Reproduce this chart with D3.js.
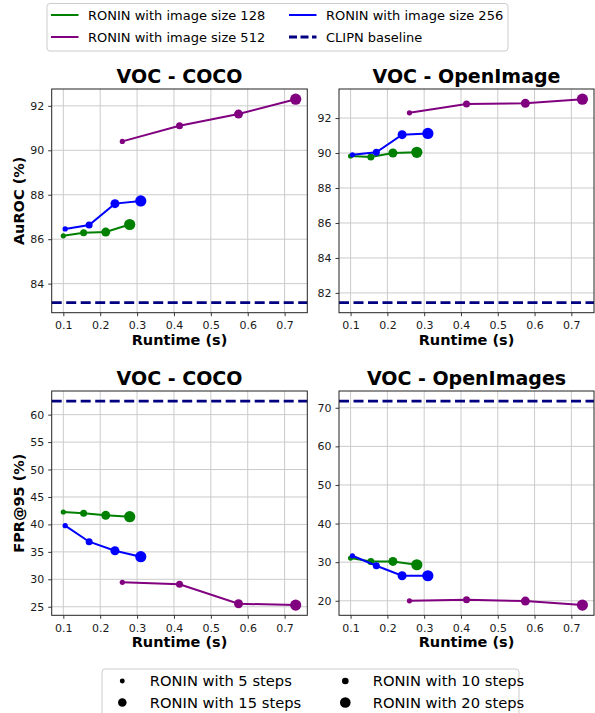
<!DOCTYPE html>
<html>
<head>
<meta charset="utf-8">
<script src="https://cdn.jsdelivr.net/npm/d3@7"></script>
<style>
  body { margin: 0; background: #fff; }
  svg { display: block; font-family: "DejaVu Sans", sans-serif; }
</style>
</head>
<body>
<svg id="chart" width="595" height="713"></svg>
<script>
// runtimes (s) for each image size, 5/10/15/20 steps
const runtime128 = [0.10, 0.155, 0.215, 0.28];
const runtime256 = [0.105, 0.17, 0.24, 0.31];
const runtime512 = [0.26, 0.415, 0.575, 0.73];
const steps = [5, 10, 15, 20];

const aurocCoco128 = [86.15, 86.29, 86.32, 86.66];
const aurocCoco256 = [86.46, 86.64, 87.60, 87.72];
const aurocCoco512 = [90.40, 91.10, 91.63, 92.30];
const aurocCocoClipn = 83.15;

const aurocOi128 = [89.83, 89.77, 90.00, 90.04];
const aurocOi256 = [89.90, 90.04, 91.05, 91.12];
const aurocOi512 = [92.30, 92.80, 92.84, 93.08];
const aurocOiClipn = 81.45;

const fprCoco128 = [42.26, 42.03, 41.66, 41.41];
const fprCoco256 = [39.77, 36.85, 35.20, 34.12];
const fprCoco512 = [29.45, 29.08, 25.55, 25.30];
const fprCocoClipn = 62.45;

const fprOi128 = [31.06, 30.20, 30.20, 29.33];
const fprOi256 = [31.66, 29.07, 26.48, 26.48];
const fprOi512 = [20.00, 20.26, 19.92, 18.88];
const fprOiClipn = 71.70;

const xTicks = [0.1, 0.2, 0.3, 0.4, 0.5, 0.6, 0.7];
const sizeLabels = ["RONIN with image size 128", "RONIN with image size 256", "RONIN with image size 512"];
const baselineLabel = "CLIPN baseline";
const colors = ["#008000", "#0000ff", "#800080"];
const navy = "#000080";
const radius = {5: 2.6, 10: 3.5, 15: 4.5, 20: 5.6};

const panels = [
  { title: "VOC - COCO", ylabel: "AuROC (%)", series: [aurocCoco128, aurocCoco256, aurocCoco512], base: aurocCocoClipn,
    yTicks: [84, 86, 88, 90, 92], x0: 51.7, x1: 307.3, y0: 89, y1: 312.7 },
  { title: "VOC - OpenImage", ylabel: null, series: [aurocOi128, aurocOi256, aurocOi512], base: aurocOiClipn,
    yTicks: [82, 84, 86, 88, 90, 92], x0: 339, x1: 594, y0: 89, y1: 312.7 },
  { title: "VOC - COCO", ylabel: "FPR@95 (%)", series: [fprCoco128, fprCoco256, fprCoco512], base: fprCocoClipn,
    yTicks: [25, 30, 35, 40, 45, 50, 55, 60], x0: 51.7, x1: 307.3, y0: 391, y1: 615.3 },
  { title: "VOC - OpenImages", ylabel: null, series: [fprOi128, fprOi256, fprOi512], base: fprOiClipn,
    yTicks: [20, 30, 40, 50, 60, 70], x0: 339, x1: 594, y0: 391, y1: 615.3 }
];
const runtimes = [runtime128, runtime256, runtime512];

const svg = d3.select("#chart");

function padded(lo, hi) {
  const m = (hi - lo) * 0.05;
  return [lo - m, hi + m];
}

panels.forEach((p, k) => {
  const allX = runtimes.flat();
  const allY = p.series.flat().concat([p.base]);
  const x = d3.scaleLinear().domain(padded(d3.min(allX), d3.max(allX))).range([p.x0, p.x1]);
  const y = d3.scaleLinear().domain(padded(d3.min(allY), d3.max(allY))).range([p.y1, p.y0]);

  const g = svg.append("g");

  // grid
  g.selectAll(".gx").data(xTicks).enter().append("line")
    .attr("x1", d => x(d)).attr("x2", d => x(d))
    .attr("y1", p.y0).attr("y2", p.y1)
    .attr("stroke", "#cbcbcb").attr("stroke-width", 1);
  g.selectAll(".gy").data(p.yTicks).enter().append("line")
    .attr("x1", p.x0).attr("x2", p.x1)
    .attr("y1", d => y(d)).attr("y2", d => y(d))
    .attr("stroke", "#cbcbcb").attr("stroke-width", 1);

  const clipId = "clip" + k;
  g.append("clipPath").attr("id", clipId).append("rect")
    .attr("x", p.x0).attr("y", p.y0).attr("width", p.x1 - p.x0).attr("height", p.y1 - p.y0);

  // baseline
  g.append("line")
    .attr("x1", p.x0).attr("x2", p.x1)
    .attr("y1", y(p.base)).attr("y2", y(p.base))
    .attr("stroke", navy).attr("stroke-width", 2.8)
    .attr("stroke-dasharray", "10,4.5");

  const line = d3.line().x(d => x(d[0])).y(d => y(d[1]));
  const plot = g.append("g").attr("clip-path", "url(#" + clipId + ")");

  p.series.forEach((vals, i) => {
    const pts = vals.map((v, j) => [runtimes[i][j], v, steps[j]]);
    plot.append("path").datum(pts)
      .attr("d", line).attr("fill", "none")
      .attr("stroke", colors[i]).attr("stroke-width", 2);
    plot.selectAll(null).data(pts).enter().append("circle")
      .attr("cx", d => x(d[0])).attr("cy", d => y(d[1]))
      .attr("r", d => radius[d[2]])
      .attr("fill", colors[i]);
  });

  // axes
  const xAxis = d3.axisBottom(x).tickValues(xTicks).tickSize(3.5).tickPadding(5).tickFormat(d3.format(".1f"));
  const yAxis = d3.axisLeft(y).tickValues(p.yTicks).tickSize(3.5).tickPadding(4).tickFormat(d3.format("d"));
  const gx = g.append("g").attr("transform", `translate(0,${p.y1})`).call(xAxis);
  const gy = g.append("g").attr("transform", `translate(${p.x0},0)`).call(yAxis);
  [gx, gy].forEach(a => {
    a.select(".domain").remove();
    a.selectAll("line").attr("stroke", "#222").attr("stroke-width", 0.9);
    a.selectAll("text").attr("font-size", 11).attr("fill", "#1a1a1a")
      .attr("font-family", "DejaVu Sans, sans-serif");
  });

  // frame
  g.append("rect")
    .attr("x", p.x0).attr("y", p.y0).attr("width", p.x1 - p.x0).attr("height", p.y1 - p.y0)
    .attr("fill", "none").attr("stroke", "#222").attr("stroke-width", 1);

  g.append("text")
    .attr("x", (p.x0 + p.x1) / 2).attr("y", p.y0 - 6)
    .attr("text-anchor", "middle").attr("font-size", 19).attr("font-weight", "bold")
    .text(p.title);

  g.append("text")
    .attr("x", (p.x0 + p.x1) / 2).attr("y", p.y1 + 32)
    .attr("text-anchor", "middle").attr("font-size", 14.5).attr("font-weight", "bold")
    .text("Runtime (s)");

  if (p.ylabel) {
    g.append("text")
      .attr("transform", `translate(24,${(p.y0 + p.y1) / 2}) rotate(-90)`)
      .attr("text-anchor", "middle").attr("font-size", 14.5).attr("font-weight", "bold")
      .text(p.ylabel);
  }
});

// top legend
const lg = svg.append("g");
lg.append("rect").attr("x", 47).attr("y", 3.5).attr("width", 461).attr("height", 47.5)
  .attr("rx", 3).attr("fill", "#fff").attr("stroke", "#cccccc").attr("stroke-width", 1);
const topItems = [
  { label: sizeLabels[0], color: colors[0], dash: null, x: 51, y: 15 },
  { label: sizeLabels[1], color: colors[1], dash: null, x: 289, y: 15 },
  { label: sizeLabels[2], color: colors[2], dash: null, x: 51, y: 37 },
  { label: baselineLabel, color: navy, dash: "8,3.5", x: 289, y: 37 }
];
topItems.forEach(it => {
  lg.append("line").attr("x1", it.x).attr("x2", it.x + 27.5).attr("y1", it.y).attr("y2", it.y)
    .attr("stroke", it.color).attr("stroke-width", it.dash ? 2.8 : 2)
    .attr("stroke-dasharray", it.dash);
  lg.append("text").attr("x", it.x + 37).attr("y", it.y).attr("dy", "0.36em")
    .attr("font-size", 13).text(it.label);
});

// bottom legend
const bg = svg.append("g");
bg.append("rect").attr("x", 102).attr("y", 669).attr("width", 417).attr("height", 60)
  .attr("rx", 3).attr("fill", "#fff").attr("stroke", "#cccccc").attr("stroke-width", 1);
const stepPos = [[122.3, 681], [345.3, 681], [122.3, 702.5], [345.3, 702.5]];
steps.forEach((s, i) => {
  bg.append("circle").attr("cx", stepPos[i][0]).attr("cy", stepPos[i][1]).attr("r", radius[s] * 0.95).attr("fill", "#000");
  bg.append("text").attr("x", stepPos[i][0] + 27.5).attr("y", stepPos[i][1]).attr("dy", "0.36em")
    .attr("font-size", 14.7).text(`RONIN with ${s} steps`);
});
</script>
</body>
</html>
